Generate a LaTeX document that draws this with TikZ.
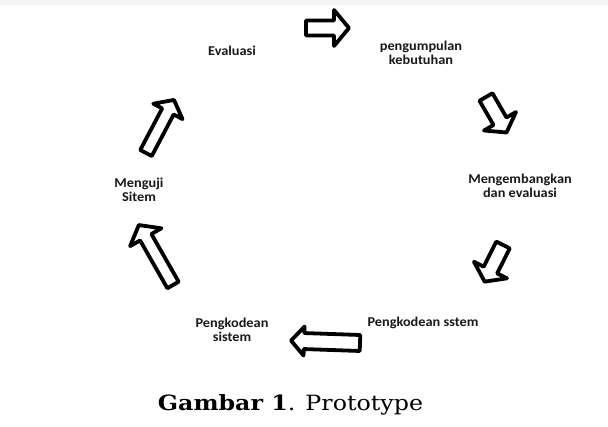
\documentclass[tikz,border=0pt]{standalone}
\usepackage{fontspec}
\setmainfont[FakeStretch=1.06]{Carlito}
\newfontfamily\capfont[FakeStretch=1.13]{DejaVu Serif}
\tikzset{
  lbl/.style={font=\fontsize{13.5}{14}\selectfont\bfseries, align=center, inner sep=0pt, text=black!90},
  blk/.style={draw=black, fill=white, line width=3.8pt, line join=round},
}
% \barrow{x}{y}{angle}{length}{bodyhalf}{headhalf}{headlen}
\newcommand{\barrow}[7]{%
  \begin{scope}[shift={(#1,#2)}, rotate=#3]
    \draw[blk] (0,-#5) -- ({#4-#7},-#5) -- ({#4-#7},-#6) -- (#4,0) -- ({#4-#7},#6) -- ({#4-#7},#5) -- (0,#5) -- cycle;
  \end{scope}}
\begin{document}
\begin{tikzpicture}[x=1pt,y=-1pt]
\useasboundingbox (0,0) rectangle (608,427);
\fill[white] (0,0) rectangle (608,427);
\fill[black!4] (0,0) rectangle (608,5);

% block arrows
\barrow{306}{28}{0}{43}{7.5}{18}{15}
\barrow{486}{97}{-60}{41}{7.5}{18.5}{13}
\barrow{503}{245}{-116.6}{41}{7.5}{18.5}{13}
\barrow{360}{343}{178}{69}{8}{14.5}{13}
\barrow{173}{285}{119.7}{69}{6.5}{18}{14}
\barrow{146}{153}{62.2}{60}{6.5}{16.5}{13}

% labels
\node[lbl] (eval) at (232,51) {Evaluasi};
\node[lbl] (kumpul) at (421,53) {pengumpulan\\kebutuhan};
\node[lbl] (kembang) at (520,186) {Mengembangkan\\dan evaluasi};
\node[lbl] (uji) at (139,190) {Menguji\\Sitem};
\node[lbl] (kode) at (232,330) {Pengkodean\\sistem};
\node[lbl] (kodes) at (423,323) {Pengkodean sstem};

% caption
\node[inner sep=0pt, anchor=base, font=\capfont\fontsize{21}{24}\selectfont] (cap) at (290.5,411) {\textbf{Gambar 1}. Prototype};
\end{tikzpicture}
\end{document}
